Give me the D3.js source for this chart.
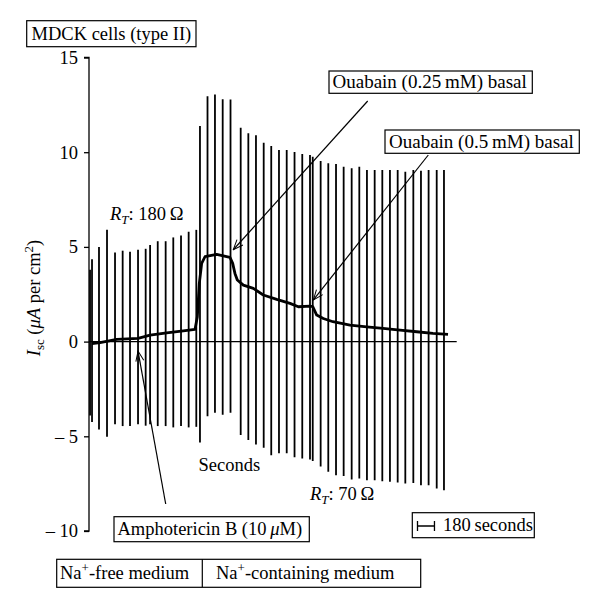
<!DOCTYPE html>
<html>
<head>
<meta charset="utf-8">
<script src="https://cdn.jsdelivr.net/npm/d3@7"></script>
<style>
  html, body { margin: 0; padding: 0; background: #fff; }
  svg { display: block; font-family: "Liberation Serif", "DejaVu Serif", serif; }
</style>
</head>
<body>
<svg id="chart" width="600" height="608"></svg>
<script>
// ---- Data (time in seconds, current in µA per cm²) ----
const pulseTimes = [11, 32, 106, 191, 276, 357, 435, 520, 601, 648, 729, 813, 894, 976, 1057, 1138,
  1177, 1257, 1336, 1418, 1501, 1609, 1690, 1771, 1853, 1933, 2015, 2097, 2180, 2262, 2344, 2373,
  2457, 2538, 2620, 2701, 2786, 2867, 2948, 3030, 3111, 3192, 3274, 3355, 3440, 3521, 3602, 3688, 3765];
const pulseTops = [3.8, 4.35, 5.0, 5.9, 4.7, 4.8, 4.75, 4.85, 4.9, 5.1, 5.3, 5.3, 5.5, 5.6, 5.8, 5.9,
  11.38, 12.95, 13.04, 12.8, 12.78, 11.29, 11.0, 10.89, 10.5, 10.33, 10.12, 10.12, 10.01, 9.9, 9.85, 9.76,
  9.54, 9.41, 9.38, 9.23, 9.15, 9.23, 9.06, 9.06, 9.06, 9.06, 9.06, 8.97, 9.06, 9.02, 9.06, 9.06, 9.06];
const pulseBottoms = [-3.9, -4.25, -4.64, -5.03, -4.36, -4.46, -4.46, -4.37, -4.44, -4.37, -4.46, -4.46, -4.53, -4.46, -4.53, -4.5,
  -5.33, -3.94, -3.76, -3.86, -3.76, -4.93, -5.2, -5.43, -5.6, -6.0, -5.9, -5.9, -6.1, -6.17, -6.22, -6.3,
  -6.6, -6.87, -7.05, -7.1, -7.28, -7.23, -7.32, -7.32, -7.37, -7.4, -7.44, -7.49, -7.46, -7.58, -7.58, -7.75, -7.85];

const traceTimes = [32, 117, 294, 520, 648, 824, 1000, 1124, 1149, 1170, 1195, 1230, 1354, 1495, 1524, 1548,
  1573, 1637, 1743, 1849, 1991, 2132, 2220, 2344, 2373, 2415, 2485, 2588, 2768, 2945, 3118, 3299, 3476, 3648, 3808];
const traceValues = [-0.1, -0.05, 0.12, 0.17, 0.34, 0.46, 0.57, 0.64, 1.3, 3.07, 4.13, 4.48, 4.6, 4.45, 4.13, 3.6,
  3.25, 2.98, 2.81, 2.46, 2.23, 2.02, 1.84, 1.87, 1.85, 1.4, 1.22, 1.05, 0.87, 0.78, 0.7, 0.61, 0.52, 0.43, 0.38];

const yTicks = [-10, -5, 0, 5, 10, 15];
const xDomain = [0, 3900];
const scaleBarSeconds = 180;

// ---- Layout ----
const svg = d3.select("#chart");
const x = d3.scaleLinear().domain(xDomain).range([89, 456.7]);
const y = d3.scaleLinear().domain([-10, 15]).range([531, 57.5]);
const FS = 18.5;
const SUB = 13;

// y axis
const yAxis = d3.axisLeft(y).tickValues(yTicks).tickSize(5).tickPadding(6)
  .tickFormat(d => d < 0 ? "\u2013 " + Math.abs(d) : String(d));
const gy = svg.append("g").attr("transform", `translate(${x(0)},0)`).call(yAxis);
gy.select(".domain").attr("stroke", "#000").attr("stroke-width", 1.3).attr("d", `M-5,${y(15)}H0V${y(-10)}H-5`);
gy.selectAll(".tick line").attr("stroke", "#000").attr("stroke-width", 1.3);
gy.selectAll(".tick text").attr("font-family", "Liberation Serif").attr("font-size", FS).attr("fill", "#000");

// zero line
svg.append("line").attr("x1", x(0)).attr("x2", x(xDomain[1])).attr("y1", y(0)).attr("y2", y(0))
  .attr("stroke", "#000").attr("stroke-width", 1.3);

// pulses
svg.append("g").selectAll("line").data(pulseTimes).join("line")
  .attr("x1", d => x(d)).attr("x2", d => x(d))
  .attr("y1", (d, i) => y(pulseTops[i])).attr("y2", (d, i) => y(pulseBottoms[i]))
  .attr("stroke", "#000").attr("stroke-width", 1.8);

// trace
const line = d3.line().x((d, i) => x(traceTimes[i])).y(d => y(d));
svg.append("path").datum(traceValues).attr("d", line)
  .attr("fill", "none").attr("stroke", "#000").attr("stroke-width", 2.8).attr("stroke-linejoin", "round");

// arrow marker
const defs = svg.append("defs");
defs.append("marker").attr("id", "arr").attr("viewBox", "-1 -5 12 10").attr("refX", 10).attr("refY", 0)
  .attr("markerWidth", 12).attr("markerHeight", 10).attr("markerUnits", "userSpaceOnUse").attr("orient", "auto")
  .append("path").attr("d", "M0,-4L10,0L0,4").attr("fill", "none").attr("stroke", "#000").attr("stroke-width", 1);

function arrow(x1, y1, x2, y2) {
  svg.append("line").attr("x1", x1).attr("y1", y1).attr("x2", x2).attr("y2", y2)
    .attr("stroke", "#000").attr("stroke-width", 1.2).attr("marker-end", "url(#arr)");
}
arrow(367.7, 101, x(1530), y(4.85));
arrow(428.3, 155, x(2380), y(2.2));
arrow(165.7, 504, x(520), y(-0.5));

// boxes
function box(x0, y0, w, h) {
  svg.append("rect").attr("x", x0).attr("y", y0).attr("width", w).attr("height", h)
    .attr("fill", "#fff").attr("stroke", "#000").attr("stroke-width", 1.2);
}
function txt(xp, yp, str, opts = {}) {
  const t = svg.append("text").attr("x", xp).attr("y", yp).attr("font-size", opts.size || FS)
    .attr("fill", "#000").attr("text-anchor", opts.anchor || "start");
  if (opts.transform) t.attr("transform", opts.transform);
  return t;
}

box(26.7, 20.7, 169.3, 26);
txt(31.5, 39.5).text("MDCK cells (type II)");

box(329, 71, 203.3, 22.3);
txt(332.5, 88.3, "", { size: 19 }).text("Ouabain (0.25\u2009mM) basal");

box(385, 130, 194.3, 23.3);
txt(389, 148.3, "", { size: 19 }).text("Ouabain (0.5\u2009mM) basal");

box(114, 516.7, 195.3, 25);
{
  const t = txt(117.5, 534.5);
  t.append("tspan").text("Amphotericin B (10\u2009");
  t.append("tspan").attr("font-style", "italic").text("\u03bc");
  t.append("tspan").text("M)");
}

box(412.3, 512.7, 122, 25);
{
  const sy = 526;
  const sx0 = 417.5, sx1 = sx0 + (x(scaleBarSeconds) - x(0));
  svg.append("path").attr("d", `M${sx0},${sy - 5}V${sy + 5}M${sx0},${sy}H${sx1}M${sx1},${sy - 5}V${sy + 5}`)
    .attr("fill", "none").attr("stroke", "#000").attr("stroke-width", 1.3);
  txt(443, 531).text("180\u2009seconds");
}

box(56.7, 559.3, 364, 28);
svg.append("line").attr("x1", 202.3).attr("x2", 202.3).attr("y1", 559.3).attr("y2", 587.3)
  .attr("stroke", "#000").attr("stroke-width", 1.2);
{
  const t = txt(60, 578.5);
  t.append("tspan").text("Na");
  t.append("tspan").attr("font-size", SUB).attr("dy", -7).text("+");
  t.append("tspan").attr("dy", 7).text("-free medium");
  const t2 = txt(216, 578.5);
  t2.append("tspan").text("Na");
  t2.append("tspan").attr("font-size", SUB).attr("dy", -7).text("+");
  t2.append("tspan").attr("dy", 7).text("-containing medium");
}

// R_T labels
function rt(xp, yp, val) {
  const t = txt(xp, yp);
  t.append("tspan").attr("font-style", "italic").text("R");
  t.append("tspan").attr("font-style", "italic").attr("font-size", SUB).attr("dy", 4).text("T");
  t.append("tspan").attr("dy", -4).text(": " + val + "\u2009\u03a9");
}
rt(110, 220, "180");
rt(310, 500, "70");

txt(198.5, 471).text("Seconds");

// y label
{
  const t = txt(0, 0, "", { anchor: "middle", transform: "translate(40,298) rotate(-90)" });
  t.append("tspan").attr("font-style", "italic").text("I");
  t.append("tspan").attr("font-size", SUB).attr("dy", 4).text("sc");
  t.append("tspan").attr("dy", -4).text(" (");
  t.append("tspan").attr("font-style", "italic").text("\u03bcA");
  t.append("tspan").text(" per cm");
  t.append("tspan").attr("font-size", SUB).attr("dy", -7).text("2");
  t.append("tspan").attr("dy", 7).text(")");
}
</script>
</body>
</html>
